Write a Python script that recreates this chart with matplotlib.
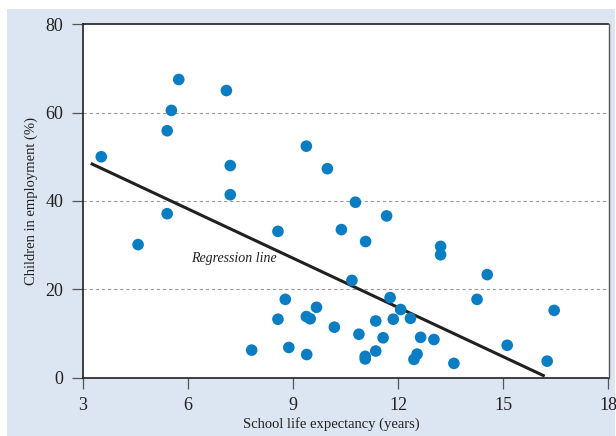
import matplotlib
matplotlib.use("Agg")
import matplotlib.pyplot as plt
from matplotlib.patches import Rectangle

# school life expectancy (years) vs children in employment (%)
school_years = [3.53, 4.58, 5.41, 5.53, 5.74, 5.41, 7.10, 7.21, 7.21, 7.82,
                8.57, 8.57, 8.78, 8.88, 9.38, 9.38, 9.49, 9.39, 9.67, 9.98,
                10.18, 10.38, 10.68, 10.78, 10.88, 11.07, 11.06, 11.06, 11.36, 11.36,
                11.57, 11.67, 11.77, 11.86, 12.07, 12.35, 12.45, 12.54, 12.64, 13.02,
                13.21, 13.21, 13.59, 14.25, 14.54, 15.11, 16.25, 16.45]
child_employment = [50.0, 30.1, 55.9, 60.5, 67.5, 37.1, 65.0, 48.0, 41.4, 6.2,
                    33.1, 13.2, 17.7, 6.8, 52.4, 13.8, 13.3, 5.2, 15.9, 47.3,
                    11.4, 33.5, 22.0, 39.7, 9.8, 30.8, 4.8, 4.2, 12.8, 6.0,
                    9.0, 36.6, 18.1, 13.2, 15.4, 13.4, 4.1, 5.3, 9.1, 8.6,
                    29.7, 27.8, 3.2, 17.7, 23.3, 7.3, 3.7, 15.2]

reg_x = [3.23, 16.18]
reg_y = [48.5, 0.3]

x_ticks = [3, 6, 9, 12, 15, 18]
y_ticks = [0, 20, 40, 60, 80]

BLUE = "#0a7dc3"
BG = "#dce6f2"
INK = "#231f20"

plt.rcParams["font.family"] = ["Liberation Serif", "DejaVu Serif"]

fig = plt.figure(figsize=(6.16, 4.36), dpi=100)
fig.patches.append(Rectangle((7 / 616, 0), 608 / 616, 1 - 9 / 436,
                             transform=fig.transFigure, facecolor=BG,
                             edgecolor="none", zorder=-10))

ax = fig.add_axes([82.7 / 616, 1 - 377.5 / 436, 525.8 / 616, 353.2 / 436])
ax.set_facecolor("white")

for v in y_ticks[1:-1]:
    ax.axhline(v, color="#9a9a9a", linewidth=0.8, dashes=(3, 2.5), zorder=1)

ax.plot(reg_x, reg_y, color=INK, linewidth=2.2, solid_capstyle="butt", zorder=2)
ax.scatter(school_years, child_employment, s=70, color=BLUE,
           edgecolors="none", zorder=3)
ax.text(6.1, 27.0, "Regression line", style="italic", fontsize=10,
        color=INK, ha="left", va="center")

ax.set_xlim(3, 18)
ax.set_ylim(0, 80)
ax.set_xticks(x_ticks)
ax.set_yticks(y_ticks)
ax.tick_params(axis="both", direction="out", length=8, width=0.9,
               color="#555555", labelsize=13, labelcolor=INK, pad=6)

for side in ["left", "top", "bottom"]:
    ax.spines[side].set_color(INK)
    ax.spines[side].set_linewidth(1.2)
ax.spines["right"].set_color("#555555")
ax.spines["right"].set_linewidth(1.0)

ax.set_xlabel("School life expectancy (years)", fontsize=10.5, color=INK)
ax.xaxis.set_label_coords(0.472, -0.112)
ax.set_ylabel("Children in employment (%)", fontsize=10.5, color=INK,
              labelpad=5)

fig.savefig("out.png", dpi=100)
